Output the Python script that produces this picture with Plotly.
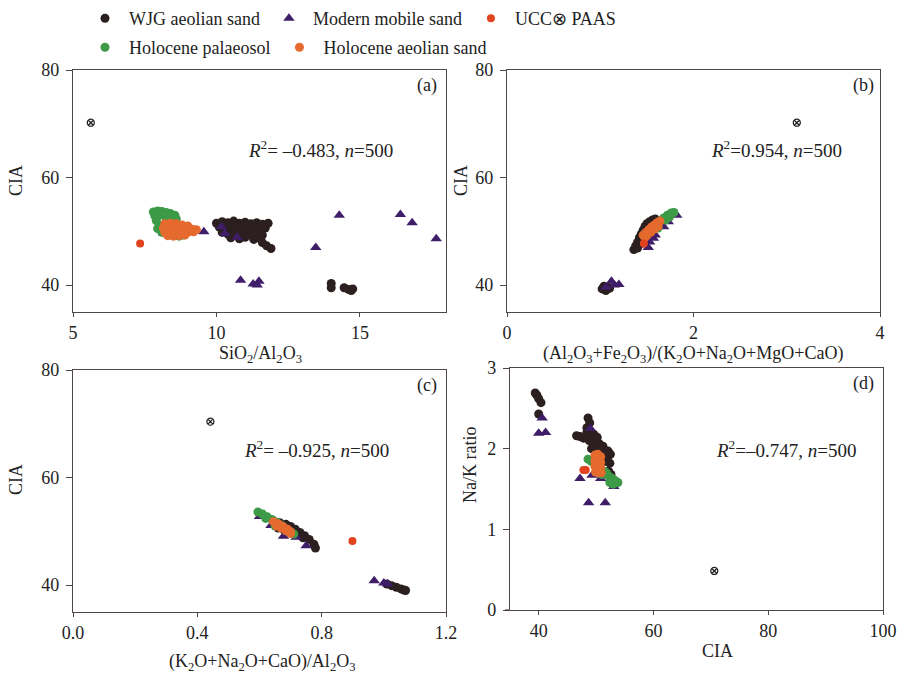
import plotly.graph_objects as go

# ---------------- data ----------------
# Panel (a): SiO2/Al2O3 vs CIA
a_wjg_x = [10.0,10.2,10.4,10.6,10.8,11.0,11.2,11.4,11.6,11.8, 10.1,10.3,10.5,10.7,10.9,11.1,11.3,11.5,11.7,
           10.2,10.4,10.6,10.8,11.0,11.2,11.4,11.6, 10.5,10.8,11.0,11.3,11.5,11.6,11.75,11.9,
           14.0,14.0,14.45,14.6,14.75,14.7]
a_wjg_y = [51.5,51.8,51.6,51.9,51.5,51.7,51.4,51.6,51.3,51.5, 50.8,50.5,50.9,50.6,50.8,50.4,50.7,50.3,50.6,
           49.8,49.5,49.9,49.6,49.8,49.4,49.7,49.3, 48.8,48.6,48.9,48.5,48.7,47.9,47.3,46.8,
           40.3,39.5,39.5,39.2,39.3,39.0]
a_mod_x = [8.16,8.57,9.56,10.17,10.29,10.72,10.84,11.28,11.42,11.48,13.46,14.28,16.41,16.82,17.66]
a_mod_y = [49.7,49.0,49.9,50.85,49.6,48.9,40.9,40.2,40.0,40.7,47.0,53.0,53.15,51.6,48.6]
a_hp_x = [7.8,7.95,8.1,8.25,8.4,8.55,7.85,8.0,8.2,8.4,8.6,7.9,8.0,7.95,8.1,8.5,8.7,8.85]
a_hp_y = [53.6,53.8,53.7,53.5,53.3,53.0,52.9,53.0,52.8,52.6,52.3,52.0,51.2,50.5,49.8,49.2,49.1,49.3]
a_ha_x = [8.2,8.4,8.6,8.8,9.0, 8.15,8.35,8.55,8.75,8.95,9.15,9.3, 8.2,8.4,8.6,8.8,9.0,9.2, 8.3,8.5,8.7,8.9]
a_ha_y = [51.4,51.5,51.4,51.2,51.0, 50.6,50.7,50.6,50.5,50.5,50.4,50.3, 49.8,49.7,49.8,49.7,49.8,49.9, 49.2,49.1,49.2,49.3]
a_ucc_x, a_ucc_y = [7.34], [47.76]
a_paas_x, a_paas_y = [5.62], [70.2]

# Panel (b): (Al2O3+Fe2O3)/(K2O+Na2O+MgO+CaO) vs CIA
b_wjg_x = [1.02,1.06,1.10,1.04,1.08, 1.36,1.38,1.40,1.42,1.44,1.46,1.48,1.50,1.53,1.56,1.59, 1.40,1.45,1.50,1.55]
b_wjg_y = [39.3,39.0,39.4,39.8,39.6, 46.6,47.3,48.0,48.8,49.5,50.2,50.9,51.4,51.8,52.1,52.3, 46.9,47.8,48.8,49.8]
b_mod_x = [1.06,1.12,1.15,1.20,1.515,1.53,1.57,1.59,1.68,1.73,1.82]
b_mod_y = [39.6,40.7,40.0,40.1,47.0,48.0,48.7,49.3,50.85,51.8,53.0]
b_hp_x = [1.50,1.55,1.60,1.64,1.68,1.72,1.76,1.79,1.70,1.74,1.62]
b_hp_y = [49.6,50.4,51.2,51.9,52.5,53.0,53.4,53.5,52.1,52.6,50.6]
b_ha_x = [1.46,1.49,1.52,1.55,1.58,1.61,1.64,1.50,1.54,1.58,1.62,1.48]
b_ha_y = [49.3,49.8,50.3,50.8,51.2,51.6,51.9,49.2,49.8,50.4,50.9,48.9]
b_ucc_x, b_ucc_y = [1.468], [47.76]
b_paas_x, b_paas_y = [3.108], [70.2]

# Panel (c): (K2O+Na2O+CaO)/Al2O3 vs CIA
c_wjg_x = [0.645,0.665,0.685,0.70,0.715,0.73,0.745,0.76,0.775,0.78, 0.66,0.68,0.70,0.72,0.74,
           1.01,1.025,1.04,1.055,1.065,1.07]
c_wjg_y = [51.9,51.6,51.3,50.9,50.4,49.8,49.2,48.5,47.6,46.9, 50.6,50.2,49.8,49.4,48.8,
           40.2,39.9,39.6,39.3,39.1,39.0]
c_mod_x = [0.60,0.637,0.677,0.718,0.75,0.969,1.0,1.012]
c_mod_y = [52.75,51.1,49.1,48.9,47.3,40.8,40.4,40.2]
c_hp_x = [0.595,0.61,0.625,0.64,0.655,0.67,0.685,0.70,0.71,0.62,0.65]
c_hp_y = [53.6,53.2,52.7,52.2,51.7,51.1,50.5,49.9,49.5,52.4,51.0]
c_ha_x = [0.645,0.66,0.675,0.69,0.70,0.655,0.67,0.685,0.70]
c_ha_y = [51.8,51.4,50.9,50.4,49.9,51.0,50.6,50.1,49.6]
c_ucc_x, c_ucc_y = [0.899], [48.2]
c_paas_x, c_paas_y = [0.442], [70.4]

# Panel (d): CIA vs Na/K ratio
d_wjg_x = [39.4,39.7,40.0,40.4,40.0, 48.6,48.9,48.4, 46.6,47.2,47.8, 48.4,49.0,49.6,50.2,
           48.8,49.4,50.0,50.6,51.2, 49.2,49.8,50.4,51.0,51.6,52.1, 51.4,52.0,52.5, 51.8,52.4, 52.2,52.6]
d_wjg_y = [2.69,2.66,2.62,2.57,2.43, 2.38,2.32,2.26, 2.16,2.15,2.13, 2.20,2.22,2.18,2.14,
           2.10,2.08,2.12,2.06,2.03, 2.00,1.98,2.02,1.98,1.96,1.97, 1.92,1.90,1.93, 1.84,1.82, 1.72,1.68]
d_mod_x = [40.6,40.0,41.2,49.0,47.2,49.3,50.8,53.1,48.7,51.6]
d_mod_y = [2.38,2.19,2.20,2.25,1.63,1.67,1.63,1.53,1.33,1.33]
d_hp_x = [48.6,49.2,50.0,50.8,51.4,51.8,52.2,52.6,53.0,53.4,53.8,52.4,53.0,51.0,50.4]
d_hp_y = [1.87,1.84,1.80,1.76,1.72,1.70,1.66,1.64,1.62,1.60,1.58,1.58,1.56,1.68,1.70]
d_ha_x = [49.8,50.3,50.8, 49.8,50.3,50.8, 49.8,50.3,50.8, 49.9,50.4,50.9]
d_ha_y = [1.92,1.93,1.90, 1.85,1.84,1.83, 1.78,1.77,1.76, 1.71,1.70,1.70]
d_ucc_x, d_ucc_y = [47.8, 48.2], [1.735, 1.735]
d_paas_x, d_paas_y = [70.6], [0.484]

r2_texts = ["<i>R</i><sup>2</sup>= –0.483, <i>n</i>=500",
            "<i>R</i><sup>2</sup>=0.954, <i>n</i>=500",
            "<i>R</i><sup>2</sup>= –0.925, <i>n</i>=500",
            "<i>R</i><sup>2</sup>=–0.747, <i>n</i>=500"]
panel_labels = ["(a)", "(b)", "(c)", "(d)"]
series_names = ["WJG aeolian sand", "Modern mobile sand", "Holocene palaeosol",
                "Holocene aeolian sand", "UCC⊗ PAAS"]

# ---------------- styling ----------------
FONT = "Liberation Serif"
C_WJG = "#2b1f1f"
C_MOD = "#3f1d68"
C_HP = "#3d9a47"
C_HA = "#e56a2e"
C_UCC = "#e2431f"
AX = "#4f4646"
W, H = 910, 679

panels = [
    (a_wjg_x, a_wjg_y, a_mod_x, a_mod_y, a_hp_x, a_hp_y, a_ha_x, a_ha_y, a_ucc_x, a_ucc_y, a_paas_x, a_paas_y),
    (b_wjg_x, b_wjg_y, b_mod_x, b_mod_y, b_hp_x, b_hp_y, b_ha_x, b_ha_y, b_ucc_x, b_ucc_y, b_paas_x, b_paas_y),
    (c_wjg_x, c_wjg_y, c_mod_x, c_mod_y, c_hp_x, c_hp_y, c_ha_x, c_ha_y, c_ucc_x, c_ucc_y, c_paas_x, c_paas_y),
    (d_wjg_x, d_wjg_y, d_mod_x, d_mod_y, d_hp_x, d_hp_y, d_ha_x, d_ha_y, d_ucc_x, d_ucc_y, d_paas_x, d_paas_y),
]

# pixel boxes (left, right, top, bottom)
boxes = [(73, 446, 70, 312), (507, 880, 70, 312), (73, 446, 370, 612), (510, 883, 368, 610)]

fig = go.Figure()
for i, p in enumerate(panels):
    xa = "x" if i == 0 else f"x{i+1}"
    ya = "y" if i == 0 else f"y{i+1}"
    show = (i == 0)
    specs = [
        (p[0], p[1], series_names[0], C_WJG, "circle", 9, "legend", 1),
        (p[2], p[3], series_names[1], C_MOD, "triangle-up", 10, "legend", 2),
        (p[4], p[5], series_names[2], C_HP, "circle", 9, "legend2", 4),
        (p[6], p[7], series_names[3], C_HA, "circle", 9, "legend2", 5),
        (p[8], p[9], series_names[4], C_UCC, "circle", 8, "legend", 3),
    ]
    for xs, ys, name, col, sym, sz, leg, rank in specs:
        fig.add_trace(go.Scatter(
            x=xs, y=ys, mode="markers", name=name, legendgroup=name,
            showlegend=show, legend=leg, legendrank=rank,
            marker=dict(color=col, symbol=sym, size=sz, line=dict(width=0)),
            xaxis=xa, yaxis=ya, hoverinfo="skip"))
    fig.add_trace(go.Scatter(
        x=p[10], y=p[11], mode="markers", name="PAAS", showlegend=False,
        marker=dict(color="#222", symbol="circle-x-open", size=7, line=dict(width=1.3, color="#222")),
        xaxis=xa, yaxis=ya, hoverinfo="skip"))

axis_common = dict(showgrid=False, zeroline=False, showline=True, linecolor=AX,
                   linewidth=1.3, mirror=True, ticks="outside", tickcolor=AX,
                   tickwidth=1.2, automargin=False,
                   tickfont=dict(family=FONT, size=18, color="#222"))

x_ranges = [[5, 18], [0, 4], [0, 1.2], [35, 100]]
x_ticks = [[5, 10, 15], [0, 2, 4], [0.0, 0.4, 0.8, 1.2], [40, 60, 80, 100]]
x_ticktext = [["5", "10", "15"], ["0", "2", "4"], ["0.0", "0.4", "0.8", "1.2"], ["40", "60", "80", "100"]]
y_ranges = [[35, 80], [35, 80], [35, 80], [0, 3]]
y_ticks = [[40, 60, 80], [40, 60, 80], [40, 60, 80], [0, 1, 2, 3]]

layout = {}
for i, (l, r, t, b) in enumerate(boxes):
    xk = "xaxis" if i == 0 else f"xaxis{i+1}"
    yk = "yaxis" if i == 0 else f"yaxis{i+1}"
    ya = "y" if i == 0 else f"y{i+1}"
    xa = "x" if i == 0 else f"x{i+1}"
    layout[xk] = dict(axis_common, domain=[l / W, r / W], range=x_ranges[i], anchor=ya,
                      tickvals=x_ticks[i], ticktext=x_ticktext[i], ticklen=4)
    layout[yk] = dict(axis_common, domain=[1 - b / H, 1 - t / H], range=y_ranges[i], anchor=xa,
                      tickvals=y_ticks[i], ticklen=6, ticklabelstandoff=3)

fig.update_layout(**layout)

annotations = []
def px_ann(text, x, y, size=18, rot=0, xanchor="center"):
    annotations.append(dict(text=text, x=x / W, y=1 - y / H, xref="paper", yref="paper",
                            showarrow=False, xanchor=xanchor, yanchor="middle", textangle=rot,
                            font=dict(family=FONT, size=size, color="#222")))

# axis titles
px_ann("SiO<sub>2</sub>/Al<sub>2</sub>O<sub>3</sub>", 260, 354)
px_ann("(Al<sub>2</sub>O<sub>3</sub>+Fe<sub>2</sub>O<sub>3</sub>)/(K<sub>2</sub>O+Na<sub>2</sub>O+MgO+CaO)", 693, 354)
px_ann("(K<sub>2</sub>O+Na<sub>2</sub>O+CaO)/Al<sub>2</sub>O<sub>3</sub>", 262, 662)
px_ann("CIA", 717, 651)
px_ann("CIA", 16, 181, rot=-90)
px_ann("CIA", 461, 181, rot=-90)
px_ann("CIA", 16, 480, rot=-90)
px_ann("Na/K ratio", 470, 465, rot=-90)
# R2 texts
px_ann(r2_texts[0], 320, 149, size=19)
px_ann(r2_texts[1], 776, 149, size=19)
px_ann(r2_texts[2], 316, 449, size=19)
px_ann(r2_texts[3], 786, 449, size=19)
# panel labels
px_ann(panel_labels[0], 427, 85)
px_ann(panel_labels[1], 863, 85)
px_ann(panel_labels[2], 427, 385)
px_ann(panel_labels[3], 863, 383)

# short extension of the (d) x axis line to the left of its y axis, as in the reference
shapes = [dict(type="line", xref="paper", yref="paper", x0=505 / W, x1=510 / W,
               y0=1 - 610 / H, y1=1 - 610 / H, line=dict(color=AX, width=1.3))]

fig.update_layout(
    width=W, height=H, margin=dict(l=0, r=0, t=0, b=0),
    paper_bgcolor="white", plot_bgcolor="white",
    font=dict(family=FONT, size=18, color="#222"),
    annotations=annotations, shapes=shapes,
    legend=dict(orientation="h", x=81 / W, y=1.0, xanchor="left", yanchor="top",
                font=dict(family=FONT, size=18, color="#222"), bgcolor="rgba(0,0,0,0)",
                itemwidth=38, itemclick=False, itemdoubleclick=False, tracegroupgap=0),
    legend2=dict(orientation="h", x=81 / W, y=1 - 29 / H, xanchor="left", yanchor="top",
                 font=dict(family=FONT, size=18, color="#222"), bgcolor="rgba(0,0,0,0)",
                 itemwidth=38, itemclick=False, itemdoubleclick=False, tracegroupgap=0),
)

fig.write_html("out.html", config={"displayModeBar": False},
               post_script="document.body.style.margin='0';")
